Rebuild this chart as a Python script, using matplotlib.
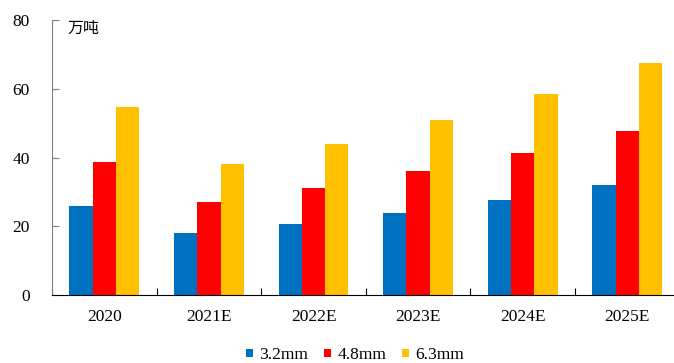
import numpy as np
import matplotlib
matplotlib.use('Agg')
import matplotlib.pyplot as plt

# datos (万吨)
anios = ['2020', '2021E', '2022E', '2023E', '2024E', '2025E']
mm32 = [26.0, 18.0, 20.8, 24.0, 27.7, 32.0]
mm48 = [38.7, 27.0, 31.1, 36.0, 41.4, 47.8]
mm63 = [54.7, 38.1, 43.9, 50.8, 58.5, 67.4]
series = ['3.2mm', '4.8mm', '6.3mm']
colores = ['#0070C0', '#FF0000', '#FFC000']

plt.rcParams['font.family'] = ['Liberation Serif', 'Noto Sans CJK SC']

fig = plt.figure(figsize=(6.74, 3.63), dpi=100)
ax = fig.add_axes([52/674, 1-295/363, 627.6/674, 275/363])

x = np.arange(len(anios))
w = 0.223
for i, (vals, nombre, c) in enumerate(zip([mm32, mm48, mm63], series, colores)):
    ax.bar(x + (i-1)*w, vals, width=w, color=c, label=nombre)

ax.set_xlim(-0.5, len(anios)-0.5)
ax.set_ylim(0, 80)
ax.set_yticks([0, 20, 40, 60, 80])

# ticks del eje x entre grupos, etiquetas en el centro
ax.set_xticks(np.arange(len(anios)+1)-0.5)
ax.set_xticklabels([])
ax.set_xticks(x, minor=True)
ax.set_xticklabels(anios, minor=True)
ax.tick_params(axis='x', which='major', direction='in', length=5, color='black')
ax.tick_params(axis='x', which='minor', length=0, pad=10, labelsize=12.5)
ax.tick_params(axis='y', direction='in', length=5, color='#808080', pad=16, labelsize=12.5)

for s in ['top', 'right']:
    ax.spines[s].set_visible(False)
ax.spines['left'].set_color('#808080')
ax.spines['bottom'].set_color('black')

# unidad
fig.text(67/674, 1-28/363, '万吨', fontsize=11.5, family=['Noto Sans CJK SC'],
         va='center', ha='left')

fig.legend(loc='center', bbox_to_anchor=(355/674, 1-355/363), ncol=3, frameon=False,
           fontsize=12.6, handlelength=0.42, handleheight=0.3, handletextpad=0.35,
           columnspacing=0.9, borderpad=0, borderaxespad=0)

plt.savefig('out.png', dpi=100)
